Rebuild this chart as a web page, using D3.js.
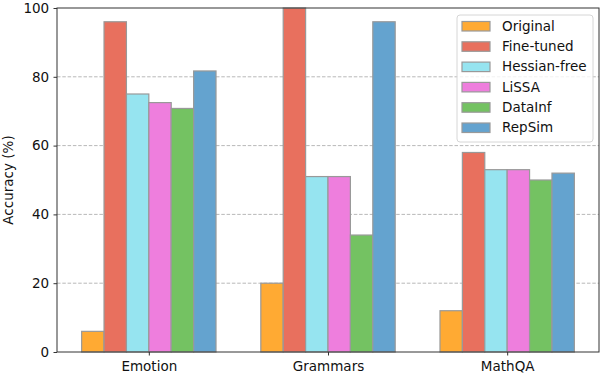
<!doctype html>
<html>
<head>
<script src="https://d3js.org/d3.v7.min.js"></script>
<style>
  body { margin: 0; background: #fff; }
  text { font-family: "DejaVu Sans", sans-serif; }
</style>
</head>
<body>
<svg id="chart"></svg>
<script>
    var datasets = ["Emotion", "Grammars", "MathQA"];
    var methods = ["Original", "Fine-tuned", "Hessian-free", "LiSSA", "DataInf", "RepSim"];
    var colors = ["#ffaa33", "#e8705e", "#96e4f0", "#ee7edd", "#74c262", "#64a3cf"];

    var original    = [6, 20, 12];
    var fineTuned   = [96, 100, 58];
    var hessianFree = [75, 51, 53];
    var lissa       = [72.5, 51, 53];
    var dataInf     = [70.8, 34, 50];
    var repSim      = [81.7, 96, 52];
    var series = [original, fineTuned, hessianFree, lissa, dataInf, repSim];

    var yTicks = [0, 20, 40, 60, 80, 100];

    var W = 604, H = 376;
    var margin = { top: 8, right: 5, bottom: 24, left: 57 },
        width = W - margin.left - margin.right,
        height = H - margin.top - margin.bottom;

    var svg = d3.select("#chart").attr("width", W).attr("height", H);
    var g = svg.append("g").attr("transform", "translate(" + margin.left + "," + margin.top + ")");

    var barW = 0.125;
    var x = d3.scaleLinear().domain([-0.5125, 2.5125]).range([0, width]);
    var y = d3.scaleLinear().domain([0, 100]).range([height, 0]);

    // grid
    g.selectAll(".grid").data(yTicks.slice(1, -1)).enter().append("line")
        .attr("x1", 0).attr("x2", width)
        .attr("y1", function (d) { return y(d); })
        .attr("y2", function (d) { return y(d); })
        .attr("stroke", "#b0b0b0").attr("stroke-width", 0.9)
        .attr("stroke-dasharray", "3.5,1.8");

    // bars
    series.forEach(function (vals, i) {
        g.selectAll(".bar" + i).data(vals).enter().append("rect")
            .attr("x", function (d, j) { return x(j + (i - 3) * barW); })
            .attr("y", function (d) { return y(d); })
            .attr("width", x(barW) - x(0))
            .attr("height", function (d) { return height - y(d); })
            .attr("fill", colors[i])
            .attr("stroke", "#999").attr("stroke-width", 1.2);
    });

    // axes
    var xAxis = d3.axisBottom(x).tickValues([0, 1, 2])
        .tickFormat(function (d) { return datasets[d]; }).tickSize(3.5).tickSizeOuter(0);
    var yAxis = d3.axisLeft(y).tickValues(yTicks).tickSize(3.5).tickSizeOuter(0);

    var gx = g.append("g").attr("transform", "translate(0," + height + ")").call(xAxis);
    var gy = g.append("g").call(yAxis);
    [gx, gy].forEach(function (a) {
        a.select(".domain").remove();
        a.selectAll(".tick line").attr("stroke", "#333");
        a.selectAll("text").attr("font-size", 13.5).attr("fill", "#111")
            .attr("font-family", "DejaVu Sans");
    });
    gx.selectAll("text").attr("dy", "0.95em");
    gy.selectAll("text").attr("dx", "-0.1em");

    // frame
    g.append("rect").attr("width", width).attr("height", height)
        .attr("fill", "none").attr("stroke", "#333").attr("stroke-width", 1);

    g.append("text")
        .attr("transform", "rotate(-90)")
        .attr("x", -height / 2).attr("y", -44)
        .attr("text-anchor", "middle")
        .attr("font-size", 13.5).attr("fill", "#111")
        .text("Accuracy (%)");

    // legend
    var lg = svg.append("g").attr("transform", "translate(457,15)");
    lg.append("rect").attr("width", 136).attr("height", 127).attr("rx", 3)
        .attr("fill", "#fff").attr("fill-opacity", 0.8)
        .attr("stroke", "#d6d6d6");
    methods.forEach(function (m, i) {
        var row = lg.append("g").attr("transform", "translate(5," + (11 + i * 20.3) + ")");
        row.append("rect").attr("y", -4.5).attr("width", 28).attr("height", 9.5)
            .attr("fill", colors[i]).attr("stroke", "#999").attr("stroke-width", 1.2);
        row.append("text").attr("x", 40).attr("dy", "0.35em")
            .attr("font-size", 13.5).attr("fill", "#111").text(m);
    });
</script>
</body>
</html>
